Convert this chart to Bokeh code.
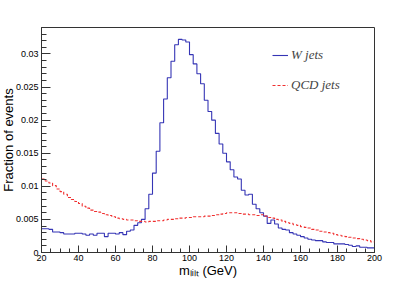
import math
import numpy as np
from bokeh.plotting import figure
from bokeh.models import (FixedTicker, CustomJSTickFormatter, Legend,
                          LegendItem, Range1d)
from bokeh.embed import file_html
from bokeh.resources import INLINE

# ---- data -------------------------------------------------------------
bin_low = 20
bin_high = 200
bin_width = 2

w_jets = [
    0.0036, 0.0036, 0.0035, 0.0031, 0.0031, 0.0030, 0.0028, 0.0028, 0.0028, 0.0029,
    0.0029, 0.0028, 0.0026, 0.0028, 0.0026, 0.0029, 0.0029, 0.0024, 0.0029, 0.0029,
    0.0028, 0.0030, 0.0027, 0.0032, 0.0034, 0.0041, 0.0045, 0.0050, 0.0066, 0.0088,
    0.0120, 0.0153, 0.0196, 0.0232, 0.0264, 0.0289, 0.0314, 0.0322, 0.0321, 0.0318,
    0.0299, 0.0285, 0.0270, 0.0255, 0.0230, 0.0213, 0.0200, 0.0180, 0.0164, 0.0150,
    0.0137, 0.0125, 0.0114, 0.0111, 0.0094, 0.0087, 0.0088, 0.0073, 0.0066, 0.0060,
    0.0055, 0.0044, 0.0049, 0.0043, 0.0037, 0.0035, 0.0034, 0.0030, 0.0028, 0.0026,
    0.0024, 0.0022, 0.0020, 0.0019, 0.0018, 0.0018, 0.0016, 0.0015, 0.0015, 0.0013,
    0.0013, 0.0013, 0.0012, 0.0011, 0.0009, 0.0010, 0.0008, 0.0008, 0.0007, 0.0007,
]

qcd_jets = [
    0.0111, 0.0108, 0.0105, 0.0101, 0.0096, 0.0092, 0.0088, 0.0083, 0.0080, 0.0077,
    0.0074, 0.0070, 0.0067, 0.0064, 0.0062, 0.0061, 0.0059, 0.0057, 0.0056, 0.0054,
    0.0052, 0.0051, 0.0050, 0.0049, 0.0049, 0.0048, 0.0047, 0.0047, 0.0046, 0.0047,
    0.0047, 0.0048, 0.0048, 0.0049, 0.0050, 0.0050, 0.0051, 0.0052, 0.0052, 0.0053,
    0.0053, 0.0054, 0.0054, 0.0054, 0.0055, 0.0055, 0.0056, 0.0057, 0.0058, 0.0059,
    0.0060, 0.0060, 0.0060, 0.0059, 0.0058, 0.0058, 0.0057, 0.0057, 0.0056, 0.0057,
    0.0055, 0.0053, 0.0052, 0.0050, 0.0049, 0.0047, 0.0045, 0.0044, 0.0042, 0.0041,
    0.0039, 0.0038, 0.0037, 0.0035, 0.0034, 0.0032, 0.0031, 0.0030, 0.0029, 0.0027,
    0.0026, 0.0025, 0.0024, 0.0023, 0.0022, 0.0021, 0.0020, 0.0019, 0.0018, 0.0016,
]

x_ticks = [20, 40, 60, 80, 100, 120, 140, 160, 180, 200]
y_ticks = [0, 0.005, 0.01, 0.015, 0.02, 0.025, 0.03]
legend_labels = ["W jets", "QCD jets"]
x_title = "m\u2097\u1d62\u2097\u209c (GeV)"   # m_lilt (GeV)
y_title = "Fraction of events"

# ---- figure -----------------------------------------------------------
edges = list(np.arange(bin_low, bin_high + bin_width, bin_width))

p = figure(width=419, height=281, output_backend="svg", toolbar_location=None,
           x_range=Range1d(20, 200), y_range=Range1d(0, 0.034),
           min_border_left=45, min_border_right=41, min_border_top=27,
           min_border_bottom=29,
           styles={"position": "absolute", "left": "-4px", "top": "0px"})
p.xgrid.visible = False
p.ygrid.visible = False
p.outline_line_color = "#333333"
p.outline_line_width = 1
p.background_fill_color = "white"
p.border_fill_color = "white"

p.xaxis.ticker = FixedTicker(ticks=x_ticks, minor_ticks=list(range(20, 201, 5)))
p.yaxis.ticker = FixedTicker(ticks=y_ticks, minor_ticks=[i * 0.001 for i in range(35)])
p.yaxis.formatter = CustomJSTickFormatter(
    code="return tick.toFixed(3).replace(/0+$/, '').replace(/\\.$/, '');")

for ax in (p.xaxis[0], p.yaxis[0]):
    ax.major_tick_out = 0
    ax.minor_tick_out = 0
    ax.axis_line_color = "#333333"
    ax.major_tick_line_color = "#333333"
    ax.minor_tick_line_color = "#333333"
    ax.major_label_text_font = "Liberation Sans"
    ax.major_label_text_font_size = "9px"
    ax.major_label_text_color = "black"
    ax.axis_label_text_font = "Liberation Sans"
    ax.axis_label_text_font_size = "13px"
    ax.axis_label_text_font_style = "normal"
    ax.axis_label_text_color = "black"
p.yaxis.major_tick_in = 9
p.yaxis.minor_tick_in = 5
p.xaxis.major_tick_in = 7
p.xaxis.minor_tick_in = 4
p.yaxis.major_label_standoff = 3
p.xaxis.major_label_standoff = 2

p.yaxis.axis_label = y_title
p.yaxis.axis_label_standoff = -3
p.xaxis.axis_label = x_title
p.xaxis.axis_label_standoff = -1

rw = p.step(x=edges, y=w_jets + [w_jets[-1]], mode="after",
            line_color="#3535b5", line_width=1.1)
rq = p.step(x=edges, y=qcd_jets + [qcd_jets[-1]], mode="after",
            line_color="#f03030", line_width=1.1, line_dash="3 2")

legend = Legend(items=[LegendItem(label=legend_labels[0], renderers=[rw]),
                       LegendItem(label=legend_labels[1], renderers=[rq])],
                location=(231, 159), border_line_color=None,
                background_fill_alpha=0, padding=0, margin=0,
                glyph_width=16, glyph_height=14, label_height=14, spacing=14,
                label_standoff=3, label_text_font="Liberation Serif",
                label_text_font_style="italic", label_text_font_size="13px")
p.add_layout(legend)

open("out.html", "w").write(file_html(p, INLINE))
